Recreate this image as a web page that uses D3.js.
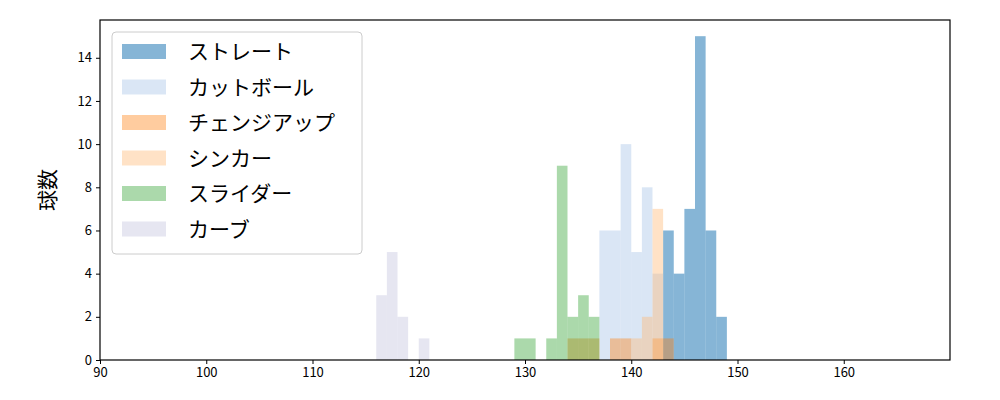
<!DOCTYPE html><html><head><meta charset="utf-8"><script src="https://cdn.jsdelivr.net/npm/d3@7"></script>
<style>body{margin:0;background:#fff}text{font-family:"Noto Sans CJK JP","DejaVu Sans",sans-serif}</style></head><body><svg id="c" width="1000" height="400"></svg><script>
const seriesNames=["ストレート","カットボール","チェンジアップ","シンカー","スライダー","カーブ"];
const colors=["#1f77b4","#aec7e8","#ff7f0e","#ffbb78","#2ca02c","#cdcde3"];
const opac=[0.54,0.45,0.4,0.42,0.4,0.5];
const fbStart=[143,144,145,146,147,148], fbCount=[6,4,7,15,6,2];
const ctStart=[137,138,139,140,141,142], ctCount=[6,6,10,5,8,4];
const chStart=[134,135,136,138,139,142,143], chCount=[1,1,1,1,1,1,1];
const skStart=[140,141,142], skCount=[1,2,7];
const slStart=[129,130,132,133,134,135,136], slCount=[1,1,1,9,2,3,2];
const cvStart=[116,117,118,120], cvCount=[3,5,2,1];
const binWidth=1;
const xTicks=[90,100,110,120,130,140,150,160], yTicks=[0,2,4,6,8,10,12,14];
const starts=[fbStart,ctStart,chStart,skStart,slStart,cvStart], counts=[fbCount,ctCount,chCount,skCount,slCount,cvCount];
const svg=d3.select("#c");
const x=d3.scaleLinear().domain([90,170]).range([100,950]);
const y=d3.scaleLinear().domain([0,15.75]).range([360,20]);
starts.forEach((s,i)=>{svg.append("g").selectAll("rect").data(s.map((v,j)=>[v,counts[i][j]])).join("rect")
 .attr("x",d=>x(d[0])).attr("width",d=>x(d[0]+binWidth)-x(d[0])).attr("y",d=>y(d[1])).attr("height",d=>y(0)-y(d[1]))
 .attr("fill",colors[i]).attr("fill-opacity",opac[i]);});
svg.append("rect").attr("x",100).attr("y",20).attr("width",850).attr("height",340).attr("fill","none").attr("stroke","#000").attr("stroke-width",1.2);
const xa=svg.append("g").attr("transform","translate(0,360)").call(d3.axisBottom(x).tickValues(xTicks).tickSize(4).tickPadding(4));
const ya=svg.append("g").attr("transform","translate(100,0)").call(d3.axisLeft(y).tickValues(yTicks).tickSize(4).tickPadding(4));
[xa,ya].forEach(a=>{a.select(".domain").remove();a.selectAll("text").attr("font-size",13).attr("font-family","DejaVu Sans");});
svg.append("text").attr("transform","translate(55,190) rotate(-90)").attr("text-anchor","middle").attr("font-size",21).text("球数");
const lg=svg.append("g");
lg.append("rect").attr("x",112).attr("y",32).attr("width",250).attr("height",222).attr("rx",4).attr("fill","#fff").attr("fill-opacity",0.8).attr("stroke","#ccc");
seriesNames.forEach((n,i)=>{const yy=51+i*35.5;
 lg.append("rect").attr("x",122).attr("y",yy-7).attr("width",44).attr("height",15).attr("fill",colors[i]).attr("fill-opacity",opac[i]);
 lg.append("text").attr("x",188).attr("y",yy+8).attr("font-size",21).text(n);});
</script></body></html>
